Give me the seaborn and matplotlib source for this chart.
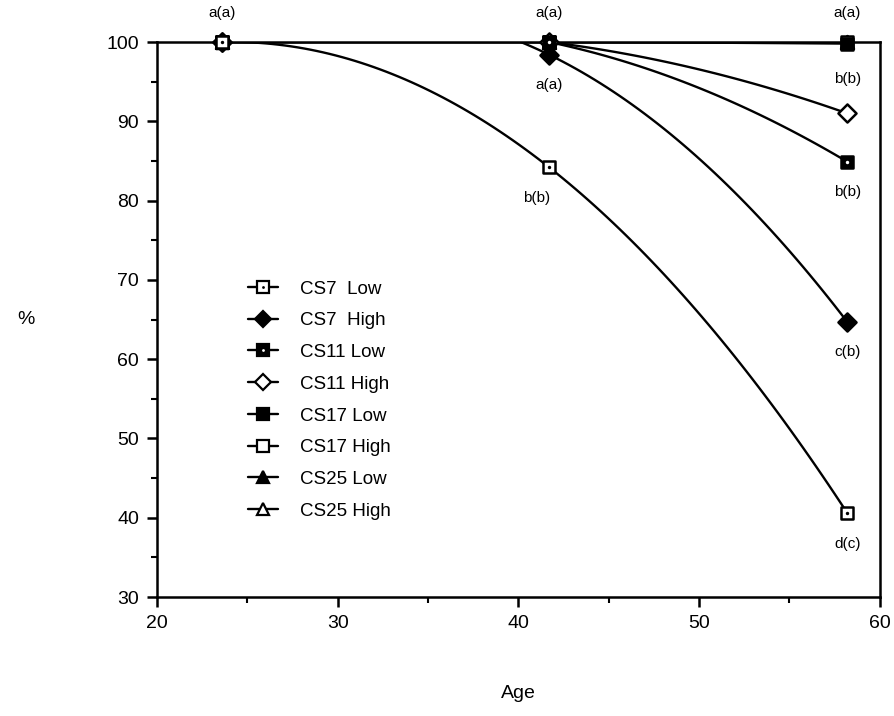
import numpy as np
import pandas as pd
import matplotlib
matplotlib.use("Agg")
import matplotlib.pyplot as plt
from matplotlib.lines import Line2D
from matplotlib.ticker import MultipleLocator
import seaborn as sns

# data
ages = [23.6, 41.7, 58.2]
cs7_low = [100, 84.2, 40.6]
cs7_high = [100, 98.4, 64.7]
cs11_low = [100, 100, 84.9]
cs11_high = [100, 100, 91.0]
cs17_low = [100, 100, 99.8]
cs17_high = [100, 100, 100]
cs25_low = [100, 100, 100]
cs25_high = [100, 100, 100]

names = ["CS7  Low", "CS7  High", "CS11 Low", "CS11 High",
         "CS17 Low", "CS17 High", "CS25 Low", "CS25 High"]
values = [cs7_low, cs7_high, cs11_low, cs11_high,
          cs17_low, cs17_high, cs25_low, cs25_high]

# significance letters: (series, point index, text, above?)
letters = [
    ("CS17 High", 0, "a(a)", True),
    ("CS17 High", 1, "a(a)", True),
    ("CS7  High", 1, "a(a)", False),
    ("CS7  Low", 1, "b(b)", False),
    ("CS17 High", 2, "a(a)", True),
    ("CS11 High", 2, "b(b)", True),
    ("CS11 Low", 2, "b(b)", False),
    ("CS7  High", 2, "c(b)", False),
    ("CS7  Low", 2, "d(c)", False),
]

rows = []
for n, v in zip(names, values):
    for a, p in zip(ages, v):
        rows.append({"series": n, "Age": a, "pct": p})
df = pd.DataFrame(rows)

# marker, face colour, centre dot colour
styles = {
    "CS7  Low": ("s", "white", "black"),
    "CS7  High": ("D", "black", None),
    "CS11 Low": ("s", "black", "white"),
    "CS11 High": ("D", "white", None),
    "CS17 Low": ("s", "black", None),
    "CS17 High": ("s", "white", None),
    "CS25 Low": ("^", "black", None),
    "CS25 High": ("^", "white", None),
}

sns.set_style("ticks")
plt.rcParams["font.family"] = ["Liberation Sans", "DejaVu Sans"]
for k in ["text.color", "axes.labelcolor", "xtick.color", "ytick.color",
          "axes.edgecolor"]:
    plt.rcParams[k] = "black"

fig = plt.figure(figsize=(8.95, 7.16), dpi=100)
ax = fig.add_axes([0.1754, 0.1662, 0.8076, 0.7751])

for n in names[::-1]:
    sub = df[df["series"] == n]
    sns.regplot(data=sub, x="Age", y="pct", order=2, ci=None, scatter=False,
                ax=ax, line_kws=dict(color="black", lw=1.7))

for n in names[::-1]:
    sub = df[df["series"] == n]
    m, fc, dot = styles[n]
    sns.scatterplot(data=sub, x="Age", y="pct", ax=ax, marker=m, s=85,
                    color=fc, edgecolor="black", linewidth=1.8,
                    clip_on=False, zorder=5, legend=False)
    if dot:
        sns.scatterplot(data=sub, x="Age", y="pct", ax=ax, marker="o", s=6,
                        color=dot, linewidth=0, clip_on=False, zorder=6,
                        legend=False)

handles = []
for n in names:
    m, fc, dot = styles[n]
    h = Line2D([], [], color="black", lw=1.7, marker=m, markersize=8,
               markerfacecolor=fc, markeredgecolor="black", markeredgewidth=1.6)
    if dot:
        d = Line2D([], [], ls="none", marker="o", markersize=2,
                   markerfacecolor=dot, markeredgewidth=0)
        h = (h, d)
    handles.append(h)

ax.legend(handles, names, loc="upper left", bbox_to_anchor=(0.115, 0.584),
          frameon=False, fontsize=13.5, handlelength=1.6, handletextpad=1.2,
          labelspacing=0.78, borderaxespad=0)

for n, i, txt, above in letters:
    v = values[names.index(n)]
    dx = -9 if (n == "CS7  Low" and i == 1) else 0
    dy = 21 if above else -22
    if n == "CS11 High":
        dy = 25
    ax.annotate(txt, (ages[i], v[i]), xytext=(dx, dy),
                textcoords="offset points", ha="center", va="center",
                fontsize=11, annotation_clip=False)

ax.set_xlim(20, 60)
ax.set_ylim(30, 100)
ax.xaxis.set_major_locator(MultipleLocator(10))
ax.xaxis.set_minor_locator(MultipleLocator(5))
ax.yaxis.set_major_locator(MultipleLocator(10))
ax.yaxis.set_minor_locator(MultipleLocator(5))
ax.tick_params(which="major", direction="out", length=7, width=1.8,
               labelsize=14, pad=6)
ax.tick_params(which="minor", direction="out", length=4, width=1.5)
for s in ax.spines.values():
    s.set_linewidth(1.8)
    s.set_visible(True)

ax.set_xlabel("Age", fontsize=14, labelpad=38)
ax.set_ylabel("%", fontsize=14, rotation=0, labelpad=58, va="center")

fig.savefig("out.png", dpi=100)
